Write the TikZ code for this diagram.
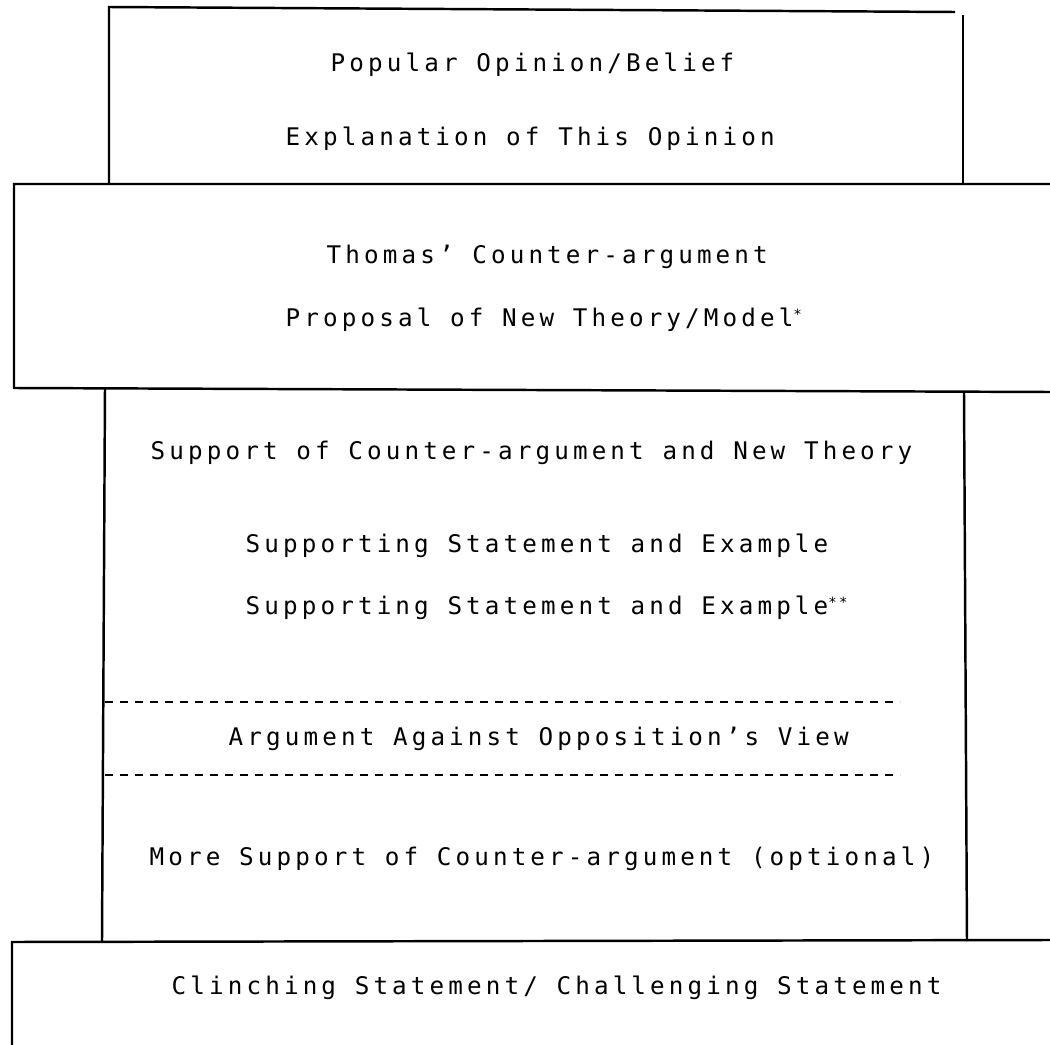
\documentclass[tikz,border=0pt]{standalone}
\usepackage{fontspec}
\usepackage{tikz}
\usetikzlibrary{positioning}
\newfontfamily\printfont[LetterSpace=17]{DejaVu Sans Mono}
\newcommand{\asts}[1]{\raisebox{0.3em}{\fontsize{4}{4}\selectfont #1}}
\tikzset{txt/.style = {anchor = mid west, inner sep = 0, font = \printfont\fontsize{6.9}{8}\selectfont}}
\tikzset{frame/.style = {line width = 0.7pt}}
\tikzset{dashline/.style = {line width = 0.5pt, dash pattern = on 0.8mm off 0.7mm}}

\begin{document}
\begin{tikzpicture}[x = 1cm, y = -1cm]
    \useasboundingbox (0, 0) rectangle (10.5, 10.45);
    % boxes
    \draw [frame] (1.09, 1.84) -- (1.09, 0.07) -- (9.55, 0.12);
    \draw [frame] (9.63, 0.15) -- (9.63, 1.84);
    \draw [frame] (10.5, 1.84) -- (0.14, 1.84) -- (0.14, 3.88) -- (10.5, 3.92);
    \draw [frame] (1.05, 3.88) -- (1.02, 9.41);
    \draw [frame] (9.64, 3.92) -- (9.67, 9.41);
    \draw [frame] (10.5, 9.40) -- (0.12, 9.42) -- (0.12, 10.45);
    \draw [dashline] (1.05, 7.02) -- (9.00, 7.02);
    \draw [dashline] (1.05, 7.75) -- (9.00, 7.75);
    % texts
    \node [txt] (popular) at (3.30, 0.64) {Popular Opinion/Belief};
    \node [txt] (explain) at (2.85, 1.38) {Explanation of This Opinion};
    \node [txt] (thomas) at (3.26, 2.56) {Thomas’ Counter-argument};
    \node [txt] (proposal) at (2.85, 3.19) {Proposal of New Theory/Model\asts{*}};
    \node [txt] (support) at (1.50, 4.52) {Support of Counter-argument and New Theory};
    \node [txt] (stmtone) at (2.45, 5.45) {Supporting Statement and Example};
    \node [txt] (stmttwo) at (2.45, 6.07) {Supporting Statement and Example\asts{**}};
    \node [txt] (against) at (2.28, 7.38) {Argument Against Opposition’s View};
    \node [txt] (more) at (1.49, 8.58) {More Support of Counter-argument (optional)};
    \node [txt] (clinch) at (1.71, 9.87) {Clinching Statement/ Challenging Statement};
\end{tikzpicture}
\end{document}
